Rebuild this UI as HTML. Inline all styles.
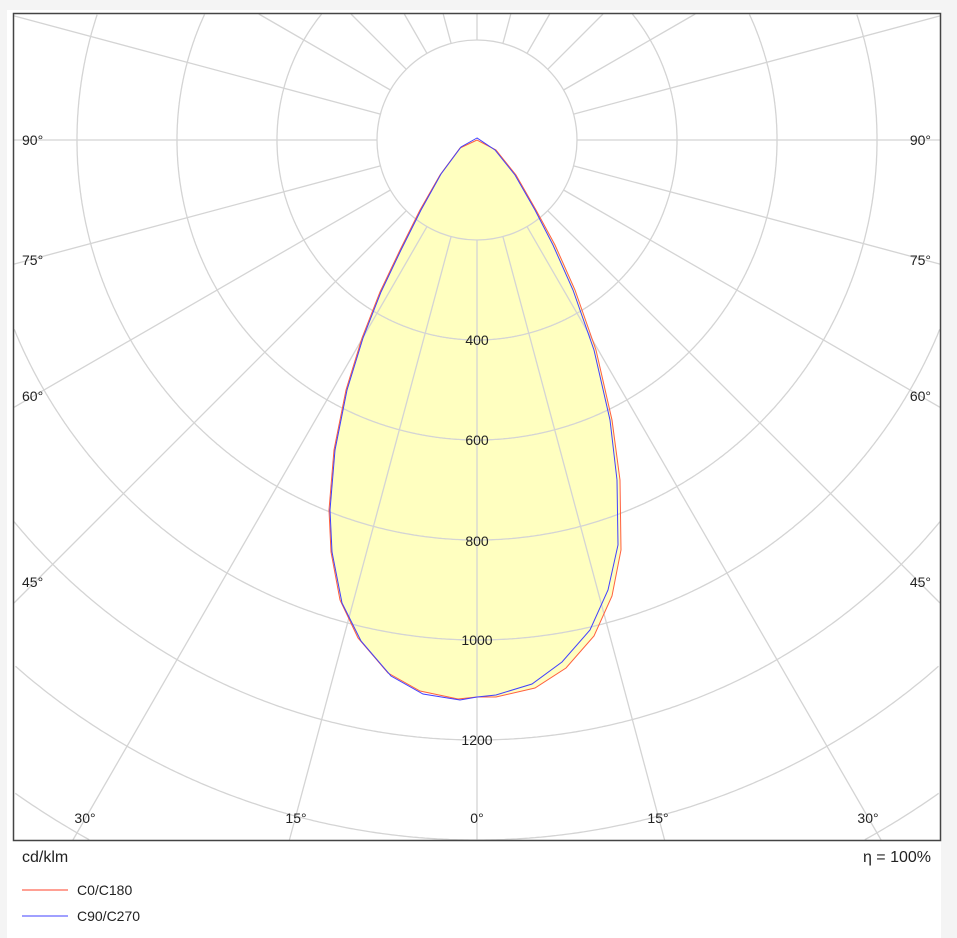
<!DOCTYPE html>
<html style="overflow:hidden;width:957px;height:938px"><head><meta charset="utf-8"><style>
body{margin:0;width:957px;height:938px;background:#f4f4f4;overflow:hidden;position:relative;font-family:"Liberation Sans","DejaVu Sans",sans-serif;}
#panel{position:absolute;left:7px;top:10px;width:934px;height:928px;background:#fff;}
svg{position:absolute;left:0;top:0;overflow:hidden;display:block;}
</style></head><body>
<div id="panel"></div>
<svg width="957" height="938" viewBox="0 0 957 938">
<rect x="14" y="14" width="926" height="826" fill="#fff"/>
<path d="M477,140 L460,148 L440,175 L420,210 L400,250 L380,292 L362,338 L346,390 L334,450 L329,510 L331,552 L340,600 L358,638 L388,673 L420,691 L458,699 L477,697 L496,697 L535,688 L566,668 L594,636 L612,596 L621,550 L620,480 L612,420 L596,350 L575,290 L555,245 L536,210 L516,175 L496,150 Z" fill="#ffffc0"/>
<g fill="none" stroke="#d4d4d4" stroke-width="1.3" id="grid"></g>
<circle cx="477" cy="140" r="100" fill="none" stroke="#d4d4d4" stroke-width="1.3"/>
<path d="M477,140 L460,148 L440,175 L420,210 L400,250 L380,292 L362,338 L346,390 L334,450 L329,510 L331,552 L340,600 L358,638 L388,673 L420,691 L458,699 L477,697 L496,697 L535,688 L566,668 L594,636 L612,596 L621,550 L620,480 L612,420 L596,350 L575,290 L555,245 L536,210 L516,175 L496,150 Z" fill="none" stroke="#ff6040" stroke-width="1"/>
<path d="M477,138 L461,147 L441,174 L421,210 L401,250 L381,292 L363,338 L347,390 L335,450 L330,510 L332,552 L342,603 L361,641 L391,676 L423,694 L460,700 L477,697 L496,695 L532,684 L562,662 L590,630 L608,590 L618,545 L617,480 L610,420 L594,350 L573,290 L553,245 L535,210 L515,175 L495,150 Z" fill="none" stroke="#4040ff" stroke-width="1"/>
<rect x="13.5" y="13.5" width="927" height="827" fill="none" stroke="#444" stroke-width="1.5"/>
<g font-size="14" fill="#222" text-anchor="middle">
<text x="477" y="345">400</text><text x="477" y="445">600</text><text x="477" y="546">800</text><text x="477" y="645">1000</text><text x="477" y="745">1200</text>
<text x="85" y="823">30°</text><text x="296" y="823">15°</text><text x="477" y="823">0°</text><text x="658" y="823">15°</text><text x="868" y="823">30°</text>
</g>
<g font-size="14" fill="#222">
<text x="22" y="145">90°</text><text x="22" y="265">75°</text><text x="22" y="401">60°</text><text x="22" y="587">45°</text>
<text x="931" y="145" text-anchor="end">90°</text><text x="931" y="265" text-anchor="end">75°</text><text x="931" y="401" text-anchor="end">60°</text><text x="931" y="587" text-anchor="end">45°</text>
<text x="22" y="862" font-size="16">cd/klm</text>
<text x="931" y="862" font-size="16" text-anchor="end">η = 100%</text>
<line x1="22" y1="890" x2="68" y2="890" stroke="#ff8070" stroke-width="1.5"/>
<text x="77" y="895">C0/C180</text>
<line x1="22" y1="916" x2="68" y2="916" stroke="#8080ff" stroke-width="1.5"/>
<text x="77" y="921">C90/C270</text>
</g>
</svg>
<script>
var X0=14,Y0=14,X1=940,Y1=840,cx=477,cy=140,s='';
function inside(x,y){return x>=X0&&x<=X1&&y>=Y0&&y<=Y1;}
for(var a=0;a<360;a+=15){var r=a*Math.PI/180,dx=Math.sin(r),dy=Math.cos(r),t=1e9;
if(dx>1e-9)t=Math.min(t,(X1-cx)/dx);if(dx<-1e-9)t=Math.min(t,(X0-cx)/dx);
if(dy>1e-9)t=Math.min(t,(Y1-cy)/dy);if(dy<-1e-9)t=Math.min(t,(Y0-cy)/dy);
s+='<line x1="'+(cx+100*dx).toFixed(1)+'" y1="'+(cy+100*dy).toFixed(1)+'" x2="'+(cx+t*dx).toFixed(1)+'" y2="'+(cy+t*dy).toFixed(1)+'"/>';}
for(var R=200;R<=800;R+=100){var d='',pen=false;
for(var i=0;i<=1440;i++){var th=i/1440*2*Math.PI,x=cx+R*Math.sin(th),y=cy+R*Math.cos(th);
if(inside(x,y)){d+=(pen?'L':'M')+x.toFixed(1)+','+y.toFixed(1);pen=true;}else pen=false;}
if(d)s+='<path d="'+d+'"/>';}
document.getElementById('grid').innerHTML=s;
</script>
</body></html>
